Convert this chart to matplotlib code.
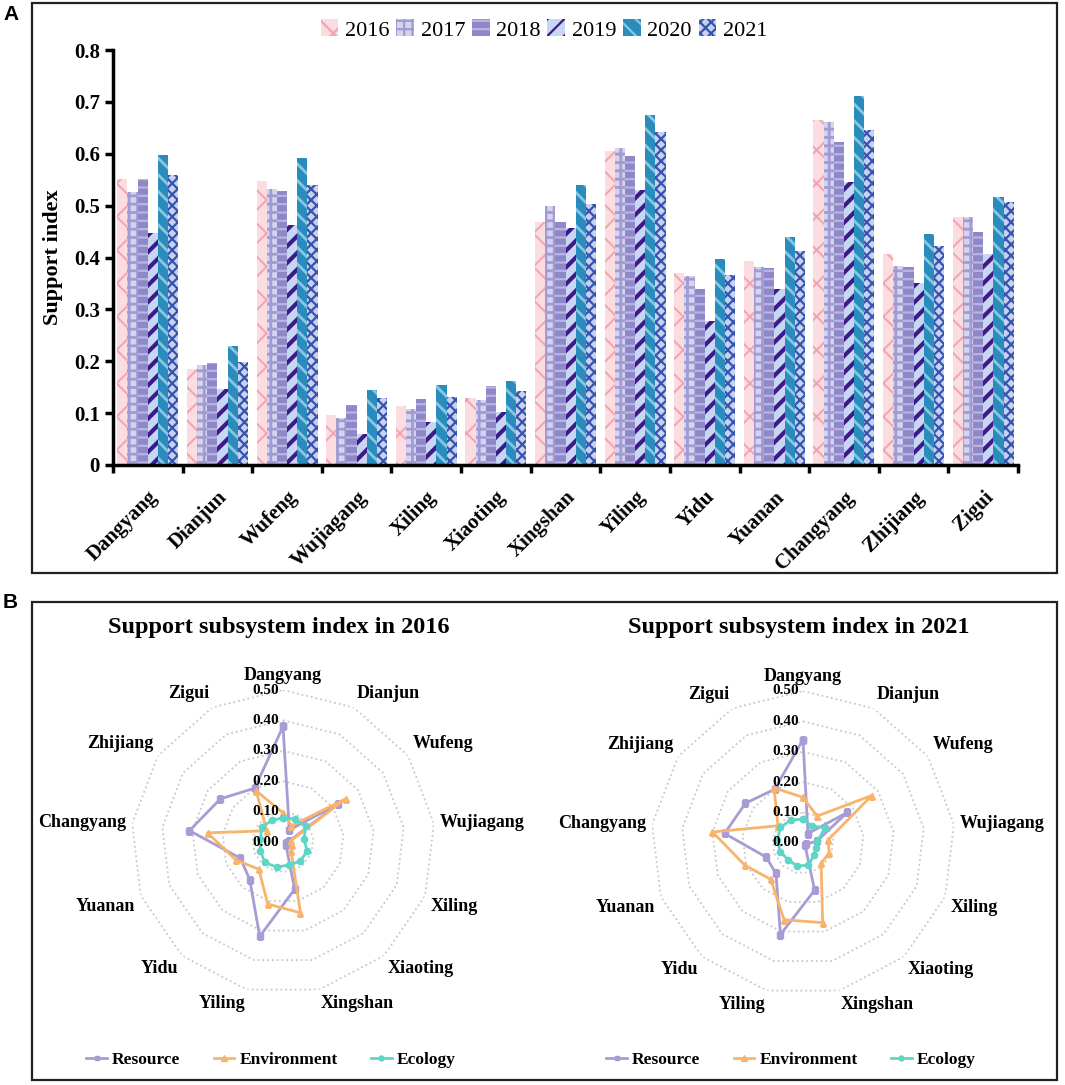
import matplotlib
matplotlib.use('Agg')
import matplotlib.pyplot as plt
from matplotlib.patches import Rectangle
import numpy as np

plt.rcParams['font.family'] = ['Liberation Serif', 'DejaVu Serif']

# 区县名称
regions = ['Dangyang', 'Dianjun', 'Wufeng', 'Wujiagang', 'Xiling', 'Xiaoting',
           'Xingshan', 'Yiling', 'Yidu', 'Yuanan', 'Changyang', 'Zhijiang', 'Zigui']
years = ['2016', '2017', '2018', '2019', '2020', '2021']

# 支撑指数 (A)
v2016 = [0.552, 0.185, 0.547, 0.096, 0.113, 0.129, 0.469, 0.606, 0.371, 0.394, 0.665, 0.406, 0.479]
v2017 = [0.527, 0.192, 0.533, 0.091, 0.107, 0.126, 0.500, 0.612, 0.364, 0.381, 0.662, 0.383, 0.478]
v2018 = [0.552, 0.197, 0.528, 0.115, 0.128, 0.152, 0.469, 0.596, 0.340, 0.379, 0.622, 0.381, 0.450]
v2019 = [0.447, 0.147, 0.462, 0.060, 0.083, 0.103, 0.456, 0.531, 0.278, 0.340, 0.546, 0.350, 0.407]
v2020 = [0.597, 0.230, 0.591, 0.145, 0.154, 0.161, 0.540, 0.674, 0.398, 0.440, 0.712, 0.445, 0.516]
v2021 = [0.560, 0.199, 0.539, 0.130, 0.131, 0.142, 0.504, 0.642, 0.366, 0.412, 0.645, 0.422, 0.507]

# 子系统指数 (B)
res2016 = [0.38, 0.045, 0.22, 0.02, 0.01, 0.015, 0.16, 0.32, 0.165, 0.15, 0.31, 0.25, 0.20]
env2016 = [0.096, 0.06, 0.25, 0.025, 0.03, 0.04, 0.24, 0.21, 0.12, 0.166, 0.25, 0.065, 0.19]
eco2016 = [0.08, 0.085, 0.09, 0.07, 0.085, 0.085, 0.078, 0.085, 0.09, 0.08, 0.075, 0.085, 0.08]
res2021 = [0.34, 0.035, 0.177, 0.045, 0.01, 0.01, 0.16, 0.31, 0.134, 0.13, 0.26, 0.23, 0.20]
env2021 = [0.15, 0.10, 0.275, 0.083, 0.092, 0.09, 0.27, 0.26, 0.16, 0.205, 0.30, 0.10, 0.205]
eco2021 = [0.078, 0.063, 0.088, 0.048, 0.046, 0.054, 0.075, 0.078, 0.074, 0.08, 0.085, 0.09, 0.086]

fig = plt.figure(figsize=(10.65, 10.85), dpi=100)

# ---------- A: 柱状图 ----------
ax = fig.add_axes([113 / 1065, 1 - 465 / 1085, 905 / 1065, 415 / 1085])
x = np.arange(len(regions))
w = 0.146
# (底色, 阴影色, 阴影样式, 阴影线宽)
styles = [
    ('#FBDDE1', '#F3A3AE', 'x', 1.4),
    ('#D6D3EF', '#A19BD3', '++', 2.0),
    ('#8F88C8', '#B9B4E2', '--', 1.6),
    ('#C7D6F2', '#3D1A8A', '//', 3.0),
    ('#2A8CBD', '#8AC6E2', '\\\\', 2.0),
    ('#C9D1F2', '#3454AE', 'xxx', 1.6),
]
series = [v2016, v2017, v2018, v2019, v2020, v2021]
for i, (vals, (fc, hc, ht, hl)) in enumerate(zip(series, styles)):
    plt.rcParams['hatch.linewidth'] = hl
    bars = ax.bar(x + (i - 2.5) * w, vals, w, color=fc, edgecolor=hc, hatch=ht,
                  linewidth=0, label=years[i])
    for b in bars:
        if hasattr(b, 'set_hatch_linewidth'):
            b.set_hatch_linewidth(hl)

ax.set_xlim(-0.5, len(regions) - 0.5)
ax.set_ylim(0, 0.8)
ax.set_yticks(np.arange(0, 0.81, 0.1))
ax.set_yticklabels(['0'] + ['%.1f' % v for v in np.arange(0.1, 0.81, 0.1)],
                   fontsize=15, fontweight='bold')
ax.set_xticks(x)
ax.set_xticklabels(regions, rotation=45, ha='right', rotation_mode='anchor',
                   fontsize=15, fontweight='bold')
ax.set_xticks(np.arange(-0.5, len(regions), 1), minor=True)
ax.tick_params(axis='x', which='major', length=0, pad=16)
ax.tick_params(axis='x', which='minor', length=6, width=2.5, direction='out')
ax.tick_params(axis='y', length=6, width=2.5, direction='out')
for s in ['top', 'right']:
    ax.spines[s].set_visible(False)
for s in ['left', 'bottom']:
    ax.spines[s].set_linewidth(2.5)
ax.set_ylabel('Support index', fontsize=16, fontweight='bold', labelpad=8)
fig.legend(loc='center', bbox_to_anchor=(544 / 1065, 1 - 30 / 1085), ncol=6,
           frameon=False, fontsize=16, handlelength=0.8, handleheight=0.8,
           handletextpad=0.3, columnspacing=0.3)

# ---------- B: 雷达图 ----------
angles = np.arange(len(regions)) * 2 * np.pi / len(regions)
ang_c = np.append(angles, angles[0])


def radar(cx, cy, title, res, env, eco, leg_x):
    rpx = 152
    rax = fig.add_axes([(cx - rpx) / 1065, 1 - (cy + rpx) / 1085,
                        2 * rpx / 1065, 2 * rpx / 1085], projection='polar')
    rax.set_theta_zero_location('N')
    rax.set_theta_direction(-1)
    rax.set_ylim(0, 0.5)
    rax.grid(False)
    rax.spines['polar'].set_visible(False)
    rax.set_xticks([])
    rax.set_yticks([])
    rax.patch.set_alpha(0)
    for r in np.arange(0.1, 0.51, 0.1):
        rax.plot(ang_c, [r] * len(ang_c), color='#C8C8C8', ls=':', lw=1.3)
    for r in np.arange(0, 0.51, 0.1):
        rax.annotate('%.2f' % r, xy=(0, r), xytext=(-3, 0), textcoords='offset points',
                     ha='right', va='center', fontsize=11, fontweight='bold')
    for a, name in zip(angles, regions):
        s, c = np.sin(a), np.cos(a)
        ha = 'left' if s > 0.1 else ('right' if s < -0.1 else 'center')
        va = 'bottom' if c > 0.2 else ('top' if c < -0.2 else 'center')
        rax.text(a, 0.52, name, ha=ha, va=va, fontsize=13, fontweight='bold')
    l1, = rax.plot(ang_c, res + res[:1], color='#A99BD3', lw=2, marker='s', ms=4,
                   label='Resource')
    l2, = rax.plot(ang_c, env + env[:1], color='#F8B46C', lw=2, marker='^', ms=5,
                   label='Environment')
    l3, = rax.plot(ang_c, eco + eco[:1], color='#5FD5C7', lw=2, marker='o', ms=4.5,
                   label='Ecology')
    fig.text(cx / 1065 - 0.004, 1 - 628 / 1085, title, ha='center', va='center',
             fontsize=17.5, fontweight='bold')
    fig.legend(handles=[l1, l2, l3], loc='center',
               bbox_to_anchor=(leg_x / 1065, 1 - 1060 / 1085), ncol=3, frameon=False,
               prop={'weight': 'bold', 'size': 12.5}, handlelength=1.2,
               handletextpad=0.3, columnspacing=1.9, markerscale=0.8)


radar(283, 842, 'Support subsystem index in 2016', res2016, env2016, eco2016, 271)
radar(803, 843, 'Support subsystem index in 2021', res2021, env2021, eco2021, 791)

# 面板边框与标号
fig.patches.append(Rectangle((32 / 1065, 1 - 573 / 1085), 1025 / 1065, 570 / 1085,
                             transform=fig.transFigure, fill=False, lw=1.6, color='#222222'))
fig.patches.append(Rectangle((32 / 1065, 1 - 1080 / 1085), 1025 / 1065, 478 / 1085,
                             transform=fig.transFigure, fill=False, lw=1.6, color='#222222'))
fig.text(3 / 1065, 1 - 14 / 1085, 'A', fontsize=15, fontweight='bold',
         family='Liberation Sans', va='center')
fig.text(3 / 1065, 1 - 603 / 1085, 'B', fontsize=15, fontweight='bold',
         family='Liberation Sans', va='center')

fig.savefig('out.png', dpi=100)
